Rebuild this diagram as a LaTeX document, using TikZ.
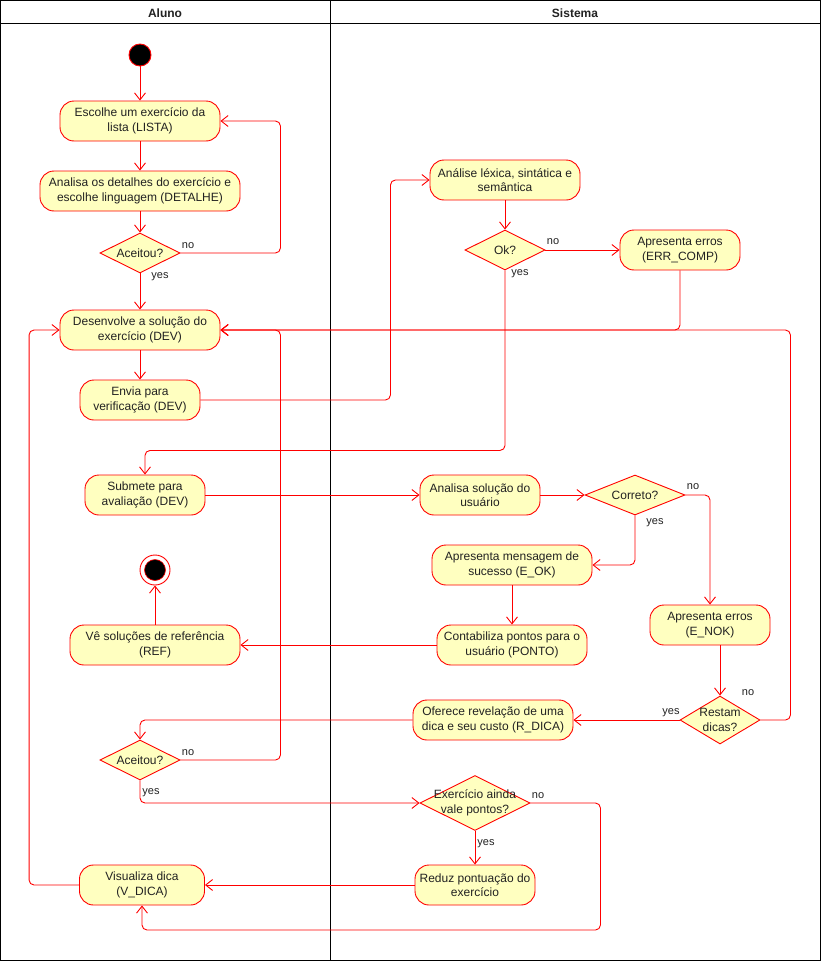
\documentclass[tikz,border=0pt]{standalone}
\usepackage{fontspec}
\setmainfont{Liberation Sans}
\usetikzlibrary{arrows.meta,shapes.geometric}
\definecolor{actfill}{HTML}{FFFFC0}
\definecolor{actred}{HTML}{FF0000}
\definecolor{txt}{HTML}{222222}
\begin{document}
\begin{tikzpicture}[x=1pt,y=-1pt,
  act/.style={draw=actred, fill=actfill, rounded corners=14pt, line width=0.9pt, align=center, inner sep=0pt, font=\fontsize{12}{14.5}\selectfont, text=txt},
  dec/.style={draw=actred, fill=actfill, diamond, line width=0.9pt, inner sep=0pt},
  dectext/.style={align=center, font=\fontsize{12}{14.5}\selectfont, text=txt, inner sep=0pt},
  flow/.style={draw=actred, line width=0.9pt, rounded corners=5pt, -{Straight Barb[length=7pt,width=11pt]}},
  lbl/.style={font=\fontsize{11}{13}\selectfont, inner sep=0pt, text=txt},
  lane/.style={draw=black, line width=0.9pt},
  hdr/.style={font=\bfseries\fontsize{12}{14}\selectfont, text=txt}
]
\useasboundingbox (0,0) rectangle (821,961);
\fill[white] (0,0) rectangle (821,961);
% swimlanes
\draw[lane] (0.5,0.5) rectangle (820.5,960.5);
\draw[lane] (0.5,23.5) -- (820.5,23.5);
\draw[lane] (330.5,0.5) -- (330.5,960.5);
\node[hdr] (hA) at (165,13) {Aluno};
\node[hdr] (hS) at (575,13) {Sistema};

% nodes
\node[circle, draw=actred, fill=black, minimum size=22pt, inner sep=0pt, line width=0.9pt] (start) at (140,55) {};
\node[act, minimum width=160pt, minimum height=40pt] (lista) at (140,121) {Escolhe um exercício da\\lista (LISTA)};
\node[act, minimum width=200pt, minimum height=40pt] (detalhe) at (140,191) {Analisa os detalhes do exercício e\\escolhe linguagem (DETALHE)};
\node[dec, minimum width=80pt, minimum height=40pt, label={[dectext]center:Aceitou?}] (acc1) at (140,253) {};
\node[act, minimum width=160pt, minimum height=40pt] (dev) at (140,330) {Desenvolve a solução do\\exercício (DEV)};
\node[act, minimum width=120pt, minimum height=40pt] (envia) at (140,400) {Envia para\\verificação (DEV)};
\node[act, minimum width=150pt, minimum height=40pt] (analise) at (505,180) {Análise léxica, sintática e\\semântica};
\node[dec, minimum width=80pt, minimum height=40pt, label={[dectext]center:Ok?}] (ok) at (505,250) {};
\node[act, minimum width=120pt, minimum height=40pt] (errc) at (680,250) {Apresenta erros\\(ERR\_COMP)};
\node[act, minimum width=120pt, minimum height=40pt] (submete) at (145,495) {Submete para\\avaliação (DEV)};
\node[act, minimum width=120pt, minimum height=40pt] (analisa) at (480,495) {Analisa solução do\\usuário};
\node[dec, minimum width=100pt, minimum height=40pt, label={[dectext]center:Correto?}] (correto) at (635,495) {};
\node[act, minimum width=160pt, minimum height=40pt] (eok) at (512,565) {Apresenta mensagem de\\sucesso (E\_OK)};
\node[act, minimum width=150pt, minimum height=40pt] (ponto) at (512,645) {Contabiliza pontos para o\\usuário (PONTO)};
\node[act, minimum width=170pt, minimum height=40pt] (ref) at (155,645) {Vê soluções de referência\\(REF)};
\node[circle, draw=actred, fill=white, minimum size=30pt, inner sep=0pt, line width=0.9pt] (endn) at (155,570) {};
\filldraw[draw=actred, fill=black, line width=0.6pt] (endn.center) circle[radius=10.5];
\node[act, minimum width=120pt, minimum height=40pt] (enok) at (710,625) {Apresenta erros\\(E\_NOK)};
\node[dec, minimum width=80pt, minimum height=48pt, label={[dectext]center:{Restam\\dicas?}}] (restam) at (720,720) {};
\node[act, minimum width=160pt, minimum height=40pt] (rdica) at (493,720) {Oferece revelação de uma\\dica e seu custo (R\_DICA)};
\node[dec, minimum width=80pt, minimum height=40pt, label={[dectext]center:Aceitou?}] (acc2) at (140,760) {};
\node[dec, minimum width=110pt, minimum height=55pt, label={[dectext]center:{Exercício ainda\\vale pontos?}}] (exerc) at (475,803) {};
\node[act, minimum width=120pt, minimum height=40pt] (reduz) at (475,885) {Reduz pontuação do\\exercício};
\node[act, minimum width=125pt, minimum height=40pt] (vdica) at (142,885) {Visualiza dica\\(V\_DICA)};

% connectors
\draw[flow] (start) -- (lista);
\draw[flow] (lista) -- (detalhe);
\draw[flow] (detalhe) -- (acc1);
\draw[flow] (acc1.east) -- ++(100,0) |- (lista.east);
\draw[flow] (acc1.south) -- (dev.north);
\draw[flow] (dev) -- (envia);
\draw[flow] (envia.east) -- ++(190,0) |- (analise.west);
\draw[flow] (analise) -- (ok);
\draw[flow] (ok.east) -- (errc.west);
\draw[flow] (errc.south) |- (dev.east);
\draw[flow] (ok.south) -- ++(0,180) -| (submete.north);
\draw[flow] (submete.east) -- (analisa.west);
\draw[flow] (analisa.east) -- (correto.west);
\draw[flow] (correto.east) -| (enok.north);
\draw[flow] (correto.south) |- (eok.east);
\draw[flow] (eok) -- (ponto);
\draw[flow] (ponto.west) -- (ref.east);
\draw[flow] (ref.north) -- (endn.south);
\draw[flow] (restam.north |- enok.south) -- (restam.north);
\draw[flow] (restam.east) -- ++(30,0) |- (dev.east);
\draw[flow] (restam.west) -- (rdica.east);
\draw[flow] (rdica.west) -| (acc2.north);
\draw[flow] (acc2.east) -- ++(100,0) |- (dev.east);
\draw[flow] (acc2.south) |- (exerc.west);
\draw[flow] (exerc.south) -- (reduz.north);
\draw[flow] (exerc.east) -- ++(70,0) -- ++(0,127) -| (vdica.south);
\draw[flow] (reduz.west) -- (vdica.east);
\draw[flow] (vdica.west) -- ++(-50,0) |- (dev.west);

% labels
\node[lbl] (l1) at (188,246) {no};
\node[lbl] (l2) at (160,277) {yes};
\node[lbl] (l3) at (553,242) {no};
\node[lbl] (l4) at (520,274) {yes};
\node[lbl] (l5) at (693,487) {no};
\node[lbl] (l6) at (655,523) {yes};
\node[lbl] (l7) at (748,693) {no};
\node[lbl] (l8) at (671,713) {yes};
\node[lbl] (l9) at (188,753) {no};
\node[lbl] (l10) at (151,793) {yes};
\node[lbl] (l11) at (538,796) {no};
\node[lbl] (l12) at (486,844) {yes};
\end{tikzpicture}
\end{document}
